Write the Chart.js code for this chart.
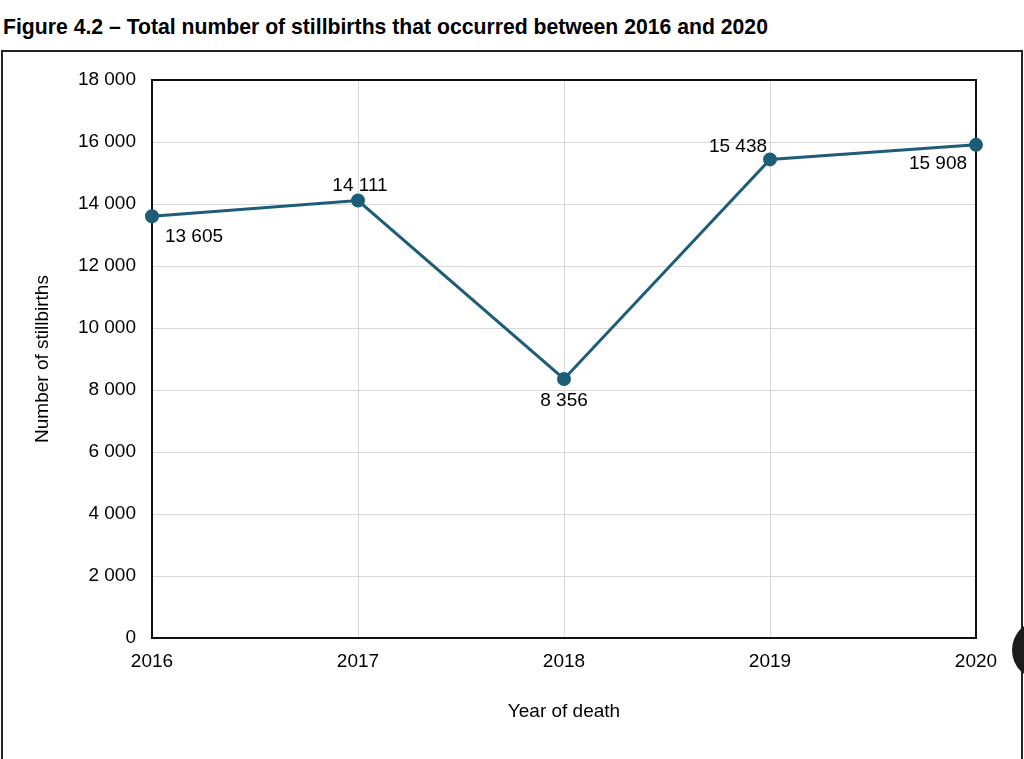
<!DOCTYPE html>
<html>
<head>
<meta charset="utf-8">
<script src="https://cdn.jsdelivr.net/npm/chart.js@4"></script>
<style>
  html, body { margin: 0; padding: 0; background: #fff; overflow: hidden; }
  body { width: 1024px; height: 759px; position: relative; font-family: "Liberation Sans", Arial, sans-serif; }
  #title { position: absolute; left: 3px; top: 15px; font-size: 21.2px; font-weight: bold; color: #000; white-space: nowrap; }
  #frame { position: absolute; left: 1px; top: 50px; width: 1018px; height: 720px; border: 2px solid #222; }
  #wrap { position: absolute; left: 0; top: 0; width: 1024px; height: 759px; }
  #blob { position: absolute; left: 1012px; top: 620px; width: 60px; height: 60px; border-radius: 50%; background: #1c1c1c; }
</style>
</head>
<body>
<div id="title">Figure 4.2 – Total number of stillbirths that occurred between 2016 and 2020</div>
<div id="frame"></div>
<div id="wrap"><canvas id="chart"></canvas></div>
<div id="blob"></div>
<script>
const years = ['2016', '2017', '2018', '2019', '2020'];
const stillbirths = [13605, 14111, 8356, 15438, 15908];
const yTicks = [0, 2000, 4000, 6000, 8000, 10000, 12000, 14000, 16000, 18000];

const lineColor = '#1e5d78';
const fontFamily = '"Liberation Sans", Arial, sans-serif';

function spaced(v) {
    return String(v).replace(/\B(?=(\d{3})+(?!\d))/g, ' ');
}

// label offsets from each point, in px
const labelOffsets = [[42, 21], [2, -15], [0, 22], [-32, -13], [-38, 19]];

const pointLabels = {
    id: 'pointLabels',
    afterDatasetsDraw(chart) {
        const ctx = chart.ctx;
        const meta = chart.getDatasetMeta(0);
        ctx.save();
        ctx.font = '19px ' + fontFamily;
        ctx.fillStyle = '#000';
        ctx.textAlign = 'center';
        ctx.textBaseline = 'middle';
        meta.data.forEach((pt, i) => {
            const [dx, dy] = labelOffsets[i];
            ctx.fillText(spaced(stillbirths[i]), pt.x + dx, pt.y + dy);
        });
        ctx.restore();
    }
};

const areaBorder = {
    id: 'areaBorder',
    beforeDatasetsDraw(chart) {
        const { ctx, chartArea: a } = chart;
        ctx.save();
        ctx.strokeStyle = '#111';
        ctx.lineWidth = 2;
        ctx.strokeRect(a.left, a.top, a.right - a.left, a.bottom - a.top);
        ctx.restore();
    }
};

new Chart(document.getElementById('chart').getContext('2d'), {
    type: 'line',
    data: {
        labels: years,
        datasets: [{
            label: 'Number of stillbirths',
            data: stillbirths,
            borderColor: lineColor,
            backgroundColor: lineColor,
            borderWidth: 3,
            pointRadius: 5.5,
            pointHoverRadius: 5.5,
            tension: 0,
            fill: false
        }]
    },
    options: {
        responsive: true,
        maintainAspectRatio: false,
        animation: false,
        layout: { padding: { top: 80, right: 48, left: 0, bottom: 0 } },
        scales: {
            x: {
                type: 'category',
                offset: false,
                afterFit: s => { s.height = 121; },
                grid: { color: '#d9d9d9', drawTicks: false },
                border: { color: '#111', width: 2 },
                ticks: { color: '#000', padding: 12, font: { family: fontFamily, size: 19 } },
                title: {
                    display: true,
                    text: 'Year of death',
                    color: '#000',
                    font: { family: fontFamily, size: 19 },
                    padding: { top: 0, bottom: 36 }
                }
            },
            y: {
                min: 0,
                max: 18000,
                afterFit: s => { s.width = 152; },
                afterBuildTicks: s => { s.ticks = yTicks.map(v => ({ value: v })); },
                grid: { color: '#d9d9d9', drawTicks: false },
                border: { color: '#111', width: 2 },
                ticks: {
                    color: '#000',
                    padding: 16,
                    font: { family: fontFamily, size: 19 },
                    callback: v => spaced(v)
                },
                title: {
                    display: true,
                    text: 'Number of stillbirths',
                    color: '#000',
                    font: { family: fontFamily, size: 19 },
                    padding: { top: 31, bottom: 0 }
                }
            }
        },
        plugins: {
            legend: { display: false },
            tooltip: { enabled: false }
        }
    },
    plugins: [areaBorder, pointLabels]
});
</script>
</body>
</html>
